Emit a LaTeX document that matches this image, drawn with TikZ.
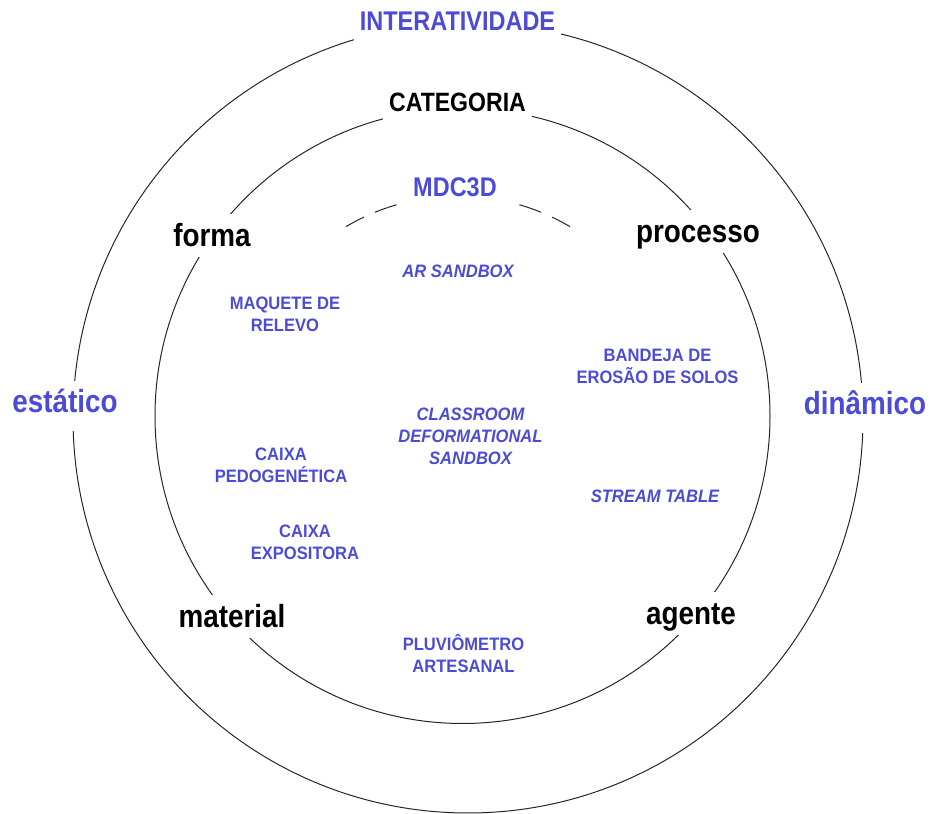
\documentclass[tikz,border=0pt]{standalone}
\usepackage{fontspec}
\setmainfont{Liberation Sans}
\newfontfamily\blkfont[FakeStretch=0.87]{Liberation Sans}
\newfontfamily\smlfont[FakeStretch=0.92]{Liberation Sans}
\definecolor{lblue}{RGB}{75,75,215}
\tikzset{
  ring/.style={line width=1pt, draw=black!85},
  dashring/.style={line width=1pt, draw=black!85, dash pattern=on 23pt off 12pt},
  biglabel/.style={font=\blkfont\bfseries\fontsize{32}{36}\selectfont, fill=white, anchor=base,
    text height=23pt, text depth=0pt, inner ysep=10pt, inner xsep=6pt},
  catlabel/.style={biglabel, text=black},
  sidelabel/.style={biglabel, text=lblue, text depth=9pt, inner ysep=9pt},
  toplabel/.style={biglabel, font=\blkfont\bfseries\fontsize{27}{30}\selectfont, text height=19pt},
  item/.style={font=\smlfont\bfseries\fontsize{18}{22}\selectfont, text=lblue, align=center, inner sep=0pt},
  itemit/.style={item, font=\smlfont\bfseries\itshape\fontsize{18}{22}\selectfont}
}
\begin{document}
\begin{tikzpicture}[x=1pt,y=1pt]
\useasboundingbox (0,0) rectangle (930,814);
\coordinate (oc) at (468,396);
\coordinate (ic) at (462.5,398);
\coordinate (dc) at (458,398);
% rings
\draw[ring] (oc) circle[radius=395pt];
\draw[ring] (ic) circle[radius=307.5pt];
\draw[dashring] ([shift={(106.2:220pt)}]dc) arc[start angle=106.2, end angle=120.6, radius=220pt];
\draw[dashring] ([shift={(73.8:220pt)}]dc) arc[start angle=73.8, end angle=59.4, radius=220pt];
% ring labels
\node[toplabel, text=lblue] (inter) at (457.5,783) {INTERATIVIDADE};
\node[toplabel, text=black, font=\blkfont\bfseries\fontsize{26.5}{30}\selectfont] (cat) at (457.5,702) {CATEGORIA};
\node[toplabel, text=lblue, fill=none] (mdc) at (455,617) {MDC3D};
\node[sidelabel] (est) at (65,401) {estático};
\node[sidelabel] (din) at (865,399) {dinâmico};
% categories
\node[catlabel] (forma) at (212,567) {forma};
\node[catlabel] (proc) at (698,571) {processo};
\node[catlabel] (mat) at (232,186) {material};
\node[catlabel] (agen) at (691,189) {agente};
% items
\node[item] (maq) at (285,499.5) {MAQUETE DE\\RELEVO};
\node[itemit] (ar) at (458,543) {AR SANDBOX};
\node[item] (band) at (657.5,448) {BANDEJA DE\\EROSÃO DE SOLOS};
\node[itemit] (cds) at (470.5,378) {CLASSROOM\\DEFORMATIONAL\\SANDBOX};
\node[item] (ped) at (281,348.5) {CAIXA\\PEDOGENÉTICA};
\node[itemit] (stream) at (655,317.5) {STREAM TABLE};
\node[item] (expo) at (305,271.5) {CAIXA\\EXPOSITORA};
\node[item] (pluv) at (463.5,160) {PLUVIÔMETRO\\ARTESANAL};
\end{tikzpicture}
\end{document}
